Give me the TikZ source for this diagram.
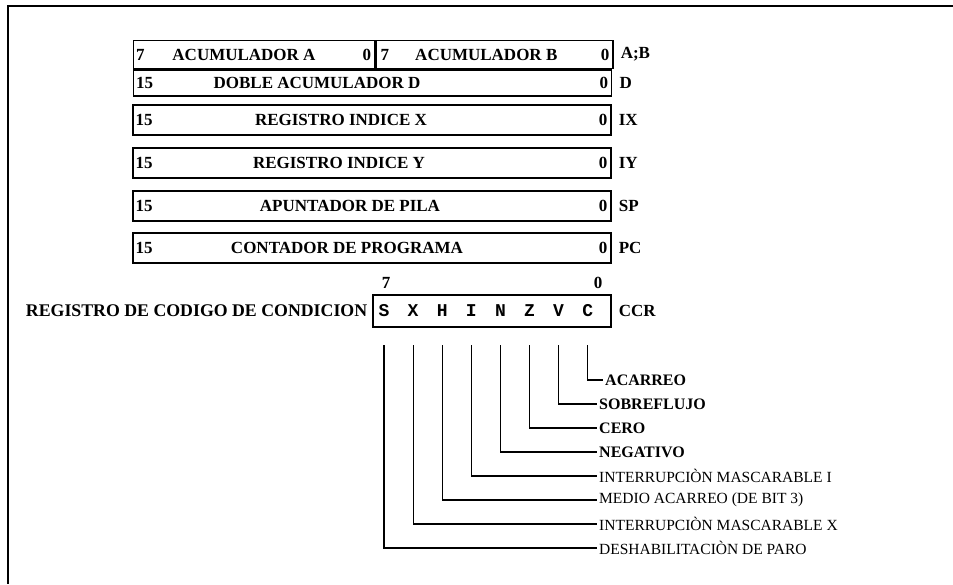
\documentclass[tikz,border=0pt]{standalone}
\usepackage{fontspec}
\setmainfont{Liberation Serif}
\newfontfamily\bitfont{Liberation Mono}
\usetikzlibrary{positioning}

\tikzset{
  boxline/.style={line width=1.3pt},
  wire/.style={line width=1.2pt},
  regbox/.style={boxline,draw,minimum width=478pt,minimum height=30pt,inner sep=0pt},
  regtxt/.style={font=\bfseries\fontsize{17}{18}\selectfont,inner sep=1pt},
  numl/.style={regtxt,anchor=west},
  numr/.style={regtxt,anchor=east},
  reglbl/.style={regtxt,anchor=west},
  bittxt/.style={font=\bitfont\bfseries\fontsize{18}{19}\selectfont,inner sep=1pt},
  flagtxt/.style={anchor=west,inner sep=2pt,font=\bfseries\fontsize{16}{17}\selectfont},
  flagthin/.style={flagtxt,font=\fontsize{15.5}{17}\selectfont}
}

\begin{document}
\begin{tikzpicture}[x=1pt,y=-1pt]
\useasboundingbox (0,0) rectangle (953,584);
% marco
\draw[wire] (953,6) -| (8,584);

% A;B y D
\node[regbox,minimum width=241pt,minimum height=28pt,anchor=north west] (regA) at (133,40) {};
\node[regbox,minimum width=237pt,minimum height=28pt,anchor=north west] (regB) at (regA.north east) {};
\node[regbox,minimum height=26pt,anchor=north west] (regD) at (regA.south west) {};
\node[numl] (regA-hi) at ([xshift=2pt]regA.west) {7};
\node[regtxt] (regA-txt) at ([xshift=111pt]regA.west) {ACUMULADOR A};
\node[numr] (regA-lo) at ([xshift=-3pt]regA.east) {0};
\node[numl] (regB-hi) at ([xshift=4pt]regB.west) {7};
\node[regtxt] (regB-txt) at ([xshift=111pt]regB.west) {ACUMULADOR B};
\node[numr] (regB-lo) at ([xshift=-3pt]regB.east) {0};
\node[reglbl] (regB-lbl) at ([xshift=6pt]regB.east) {A;B};
\node[numl] (regD-hi) at ([xshift=2pt]regD.west) {15};
\node[regtxt] (regD-txt) at ([xshift=184pt]regD.west) {DOBLE ACUMULADOR D};
\node[numr] (regD-lo) at ([xshift=-3pt]regD.east) {0};
\node[reglbl] (regD-lbl) at ([xshift=6pt]regD.east) {D};

% registros de 16 bits
\foreach \nm/\ctr/\txt/\cy in {IX/341/REGISTRO INDICE X/120,
    IY/339/REGISTRO INDICE Y/163,
    SP/350/APUNTADOR DE PILA/206,
    PC/347/CONTADOR DE PROGRAMA/248}{
  \node[regbox] (reg\nm) at (372,\cy) {};
  \node[numl] (reg\nm-hi) at ([xshift=2pt]reg\nm.west) {15};
  \node[regtxt] (reg\nm-txt) at (\ctr,\cy) {\txt};
  \node[numr] (reg\nm-lo) at ([xshift=-3pt]reg\nm.east) {0};
  \node[reglbl] (reg\nm-lbl) at ([xshift=6pt]reg\nm.east) {\nm};
}

% CCR
\node[regbox,minimum width=238pt,minimum height=32pt] (regCCR) at (492,311) {};
\foreach \b [count=\i from 0] in {S,X,H,I,N,Z,V,C}
  \node[bittxt] (bit\b) at (384+29.1*\i,311) {\b};
\node[regtxt] (regCCR-hi) at (386,283) {7};
\node[regtxt] (regCCR-lo) at (598,283) {0};
\node[regtxt,anchor=east,font=\bfseries\fontsize{17.8}{19}\selectfont] (regCCR-txt) at ([xshift=-4pt]regCCR.west) {REGISTRO DE CODIGO DE CONDICION};
\node[reglbl] (regCCR-lbl) at ([xshift=6pt]regCCR.east) {CCR};

% banderas
\coordinate (wireTop) at (0,345);
\foreach \b/\txt/\ly/\lx/\st in {C/ACARREO/380/603/flagtxt,
    V/SOBREFLUJO/404/597/flagtxt,
    Z/CERO/428/597/flagtxt,
    N/NEGATIVO/452/597/flagtxt,
    I/INTERRUPCIÒN MASCARABLE I/476/597/flagthin,
    H/MEDIO ACARREO (DE BIT 3)/500/597/flagthin,
    X/INTERRUPCIÒN MASCARABLE X/524/597/flagthin,
    S/DESHABILITACIÒN DE PARO/548/597/flagthin}{
  \coordinate (top\b) at (bit\b |- wireTop);
  \node[\st] (flag\b) at (\lx,\ly) {\txt};
  \draw[wire] (top\b) |- (flag\b.west);
}
\end{tikzpicture}
\end{document}
